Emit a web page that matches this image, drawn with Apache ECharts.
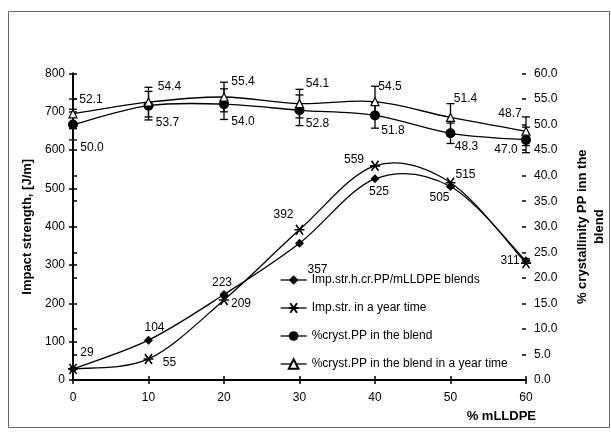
<!DOCTYPE html>
<html>
<head>
<meta charset="utf-8">
<script src="https://cdn.jsdelivr.net/npm/echarts@6/dist/echarts.min.js"></script>
<style>html,body{margin:0;padding:0;background:#fff;overflow:hidden;}#c{width:611px;height:432px;}</style>
</head>
<body>
<div id="c"></div>
<script>
// ---- data ----
var mLLDPE = [0, 10, 20, 30, 40, 50, 60];
var impStr = [29, 104, 223, 357, 525, 505, 311];
var impStrYear = [29, 55, 209, 392, 559, 515, 305];
var crystPP = [50.0, 53.7, 54.0, 52.8, 51.8, 48.3, 47.0];
var crystPPYear = [52.1, 54.4, 55.4, 54.1, 54.5, 51.4, 48.7];
var crystErr = [3.0, 2.8, 3.0, 3.0, 2.5, 2.0, 2.5];
var crystYearErr = [2.9, 2.9, 2.9, 2.8, 3.0, 2.7, 2.8];
var seriesNames = ['Imp.str.h.cr.PP/mLLDPE blends', 'Imp.str. in a year time', '%cryst.PP in the blend', '%cryst.PP in the blend in a year time'];

// ---- label placement (style) ----
var offImp = [[14,-16],[6,-12],[-2,-12],[18,26],[4,13],[-11,11],[-16,0]];
var offImpY = [null,[21,4],[17,4],[-16,-15],[-21,-6],[15,-8],null];
var offCr = [[19,23],[19,17],[19,18],[18,13],[18,15],[16,13],[-20,10]];
var offCrY = [[18,-14],[21,-15],[19,-15],[18,-20],[15,-15],[15,-19],[-16,-18]];

var FONT = '"Liberation Sans", Arial, sans-serif';

function mkData(vals, offs, fmt) {
  return mLLDPE.map(function (x, i) {
    var o = offs[i];
    return {
      value: [x, vals[i]],
      label: o ? { show: true, position: 'inside', offset: o, formatter: fmt } : { show: false }
    };
  });
}
function xyData(vals) {
  return mLLDPE.map(function (x, i) { return [x, vals[i]]; });
}
function errData(vals, errs) {
  return mLLDPE.map(function (x, i) { return [x, vals[i], errs[i]]; });
}
function renderErr(params, api) {
  var x = api.value(0), y = api.value(1), e = api.value(2);
  var t = api.coord([x, y + e]), b = api.coord([x, y - e]);
  var w = 4;
  var st = { stroke: '#000', lineWidth: 1.3 };
  return { type: 'group', children: [
    { type: 'line', shape: { x1: t[0], y1: t[1], x2: b[0], y2: b[1] }, style: st },
    { type: 'line', shape: { x1: t[0] - w, y1: t[1], x2: t[0] + w, y2: t[1] }, style: st },
    { type: 'line', shape: { x1: b[0] - w, y1: b[1], x2: b[0] + w, y2: b[1] }, style: st }
  ]};
}
// Excel-like smoothed segment (Catmull-Rom as cubic Bezier) through the axis scale
function curveRenderer(vals) {
  return function (params, api) {
    var i = params.dataIndex, n = vals.length;
    if (i >= n - 1) return null;
    function P(j) { j = Math.max(0, Math.min(n - 1, j)); return api.coord([mLLDPE[j], vals[j]]); }
    var p0 = P(i - 1), p1 = P(i), p2 = P(i + 1), p3 = P(i + 2);
    var k = 1 / 6;
    return {
      type: 'bezierCurve',
      shape: {
        x1: p1[0], y1: p1[1], x2: p2[0], y2: p2[1],
        cpx1: p1[0] + (p2[0] - p0[0]) * k, cpy1: p1[1] + (p2[1] - p0[1]) * k,
        cpx2: p2[0] - (p3[0] - p1[0]) * k, cpy2: p2[1] - (p3[1] - p1[1]) * k
      },
      style: { stroke: '#000', lineWidth: 1.3, fill: null }
    };
  };
}

var starPath = 'path://M0,5L10,5M1.5,1.5L8.5,8.5M8.5,1.5L1.5,8.5';
var labelStyle = { color: '#000', fontSize: 12, fontFamily: FONT };
var hiddenLine = { color: '#000', width: 1.3, opacity: 0 };
var legendLine = { color: '#000', width: 1.3, opacity: 1 };

var chart = echarts.init(document.getElementById('c'), null, { renderer: 'canvas' });
chart.setOption({
  animation: false,
  backgroundColor: '#fff',
  textStyle: { fontFamily: FONT, color: '#000' },
  graphic: [{
    type: 'rect', shape: { x: 8.5, y: 11.5, width: 601, height: 416 },
    style: { fill: 'none', stroke: '#666', lineWidth: 1 }, z: -1
  }],
  grid: { left: 73, right: 85, top: 73.5, bottom: 52, outerBoundsMode: 'none', containLabel: false },
  legend: {
    data: seriesNames.map(function (nm) { return { name: nm, lineStyle: legendLine }; }),
    orient: 'vertical', left: 275, top: 269,
    itemWidth: 26, itemHeight: 12, itemGap: 16,
    textStyle: { fontSize: 12, fontFamily: FONT, color: '#000' }
  },
  xAxis: [{
    type: 'value', min: 0, max: 60, interval: 10,
    axisLine: { lineStyle: { color: '#000', width: 2 } },
    axisTick: { length: 4, lineStyle: { color: '#000', width: 1.5 } },
    axisLabel: { fontSize: 12, color: '#000', margin: 12, fontFamily: FONT },
    splitLine: { show: false },
    name: '% mLLDPE', nameLocation: 'end', nameGap: 10,
    nameTextStyle: { fontSize: 13, fontWeight: 'bold', color: '#000', fontFamily: FONT, align: 'right', verticalAlign: 'top', padding: [30, 0, 0, 0] }
  }, {
    type: 'value', min: 0, max: 60, interval: 10, position: 'bottom',
    axisLine: { show: false }, axisLabel: { show: false }, splitLine: { show: false },
    axisTick: { inside: true, length: 4, lineStyle: { color: '#000', width: 1.5 } }
  }],
  yAxis: [{
    type: 'value', min: 0, max: 800, interval: 100, position: 'left',
    axisLine: { show: true, lineStyle: { color: '#000', width: 2 } },
    axisTick: { show: true, length: 4, lineStyle: { color: '#000', width: 1.5 } },
    axisLabel: { fontSize: 12, color: '#000', margin: 8, fontFamily: FONT },
    splitLine: { show: false },
    name: 'Impact strength, [J/m]', nameLocation: 'middle', nameGap: 38, nameRotate: 90,
    nameTextStyle: { fontSize: 13, fontWeight: 'bold', color: '#000', fontFamily: FONT }
  }, {
    type: 'value', min: 0, max: 60, interval: 5, position: 'right',
    axisLine: { show: true, lineStyle: { color: '#000', width: 2 } },
    axisTick: { show: true, length: 4, lineStyle: { color: '#000', width: 1.5 } },
    axisLabel: { fontSize: 12, color: '#000', margin: 8, fontFamily: FONT, formatter: function (v) { return v.toFixed(1); } },
    splitLine: { show: false },
    name: '% crystallinity PP inn the\nblend', nameLocation: 'middle', nameGap: 48, nameRotate: 90,
    nameTextStyle: { fontSize: 13, fontWeight: 'bold', color: '#000', fontFamily: FONT, lineHeight: 17, align: 'center' }
  }, {
    type: 'value', min: 0, max: 800, interval: 100, position: 'left',
    axisLine: { show: false }, axisLabel: { show: false }, splitLine: { show: false },
    axisTick: { show: true, inside: true, length: 4, lineStyle: { color: '#000', width: 1.5 } }
  }, {
    type: 'value', min: 0, max: 60, interval: 5, position: 'right',
    axisLine: { show: false }, axisLabel: { show: false }, splitLine: { show: false },
    axisTick: { show: true, inside: true, length: 4, lineStyle: { color: '#000', width: 1.5 } }
  }],
  series: [{
    type: 'custom', name: 'errY', yAxisIndex: 1, renderItem: renderErr, data: errData(crystPPYear, crystYearErr), z: 1, silent: true
  }, {
    type: 'custom', name: 'err', yAxisIndex: 1, renderItem: renderErr, data: errData(crystPP, crystErr), z: 1, silent: true
  }, {
    type: 'custom', name: 'c0', yAxisIndex: 0, renderItem: curveRenderer(impStr), data: xyData(impStr), z: 2, silent: true
  }, {
    type: 'custom', name: 'c1', yAxisIndex: 0, renderItem: curveRenderer(impStrYear), data: xyData(impStrYear), z: 2, silent: true
  }, {
    type: 'custom', name: 'c2', yAxisIndex: 1, renderItem: curveRenderer(crystPP), data: xyData(crystPP), z: 2, silent: true
  }, {
    type: 'custom', name: 'c3', yAxisIndex: 1, renderItem: curveRenderer(crystPPYear), data: xyData(crystPPYear), z: 2, silent: true
  }, {
    name: seriesNames[0], type: 'line', yAxisIndex: 0,
    data: mkData(impStr, offImp, function (p) { return p.value[1]; }),
    symbol: 'diamond', symbolSize: 9,
    lineStyle: hiddenLine, itemStyle: { color: '#000' }, label: labelStyle, z: 3
  }, {
    name: seriesNames[1], type: 'line', yAxisIndex: 0,
    data: mkData(impStrYear, offImpY, function (p) { return p.value[1]; }),
    symbol: starPath, symbolSize: 10,
    lineStyle: hiddenLine, itemStyle: { color: 'rgba(0,0,0,0)', borderColor: '#000', borderWidth: 1.6 }, label: labelStyle, z: 3
  }, {
    name: seriesNames[2], type: 'line', yAxisIndex: 1,
    data: mkData(crystPP, offCr, function (p) { return p.value[1].toFixed(1); }),
    symbol: 'circle', symbolSize: 10,
    lineStyle: hiddenLine, itemStyle: { color: '#000' }, label: labelStyle, z: 3
  }, {
    name: seriesNames[3], type: 'line', yAxisIndex: 1,
    data: mkData(crystPPYear, offCrY, function (p) { return p.value[1].toFixed(1); }),
    symbol: 'triangle', symbolSize: 8,
    lineStyle: hiddenLine, itemStyle: { color: '#fff', borderColor: '#000', borderWidth: 1.2 }, label: labelStyle, z: 3
  }]
});
</script>
</body>
</html>
